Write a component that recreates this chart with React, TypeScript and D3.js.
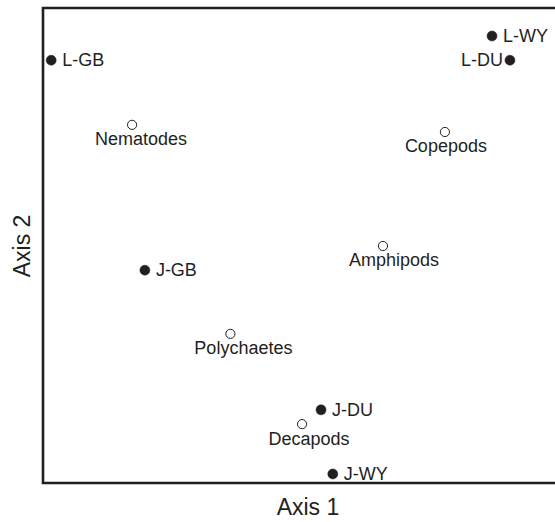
import React from "react";
import * as d3 from "d3";

const W = 555;
const H = 522;

const names = ["L-GB", "L-WY", "L-DU", "Nematodes", "Copepods", "Amphipods", "J-GB", "Polychaetes", "J-DU", "Decapods", "J-WY"];
const kinds = ["site", "site", "site", "taxon", "taxon", "taxon", "site", "taxon", "site", "taxon", "site"];
const axis1 = [1.6, 87.7, 91.2, 17.4, 78.5, 66.4, 19.9, 36.6, 54.3, 50.6, 56.6];
const axis2 = [89.0, 94.1, 89.0, 75.4, 73.9, 49.9, 44.8, 31.4, 15.4, 12.4, 1.9];
// label placement: "r" right, "l" left, "b" below (with horizontal nudge)
const labelSide = ["r", "r", "l", "b", "b", "b", "r", "b", "r", "b", "r"];
const labelNudge = [0, 0, 0, 9, 1, 11, 0, 13, 0, 7, 0];

const xTitle = "Axis 1";
const yTitle = "Axis 2";

export default function App() {
  const left = 43;
  const top = 8;
  const bottom = 483;
  const right = 555;
  const x = d3.scaleLinear().domain([0, 100]).range([left, right]);
  const y = d3.scaleLinear().domain([0, 100]).range([bottom, top]);
  const frame = d3.line()([
    [right + 20, top],
    [left, top],
    [left, bottom],
    [right + 20, bottom],
  ]);
  const font = "'Liberation Sans', Arial, Helvetica, sans-serif";
  const ink = "#231f20";
  return (
    <svg width={W} height={H} style={{ position: "absolute", left: 0, top: 0, background: "#fff" }}>
      <path d={frame || ""} fill="none" stroke={ink} strokeWidth={2.6} />
      {names.map((n, i) => {
        const cx = x(axis1[i]);
        const cy = y(axis2[i]);
        const side = labelSide[i];
        let tx = cx + 11;
        let ty = cy + 6;
        let anchor: "start" | "middle" | "end" = "start";
        if (side === "l") {
          tx = cx - 7;
          anchor = "end";
        } else if (side === "b") {
          tx = cx + labelNudge[i];
          ty = cy + 20.5;
          anchor = "middle";
        }
        return (
          <g key={n}>
            <circle
              cx={cx}
              cy={cy}
              r={kinds[i] === "site" ? 5 : 4.6}
              fill={kinds[i] === "site" ? ink : "#fff"}
              stroke={ink}
              strokeWidth={kinds[i] === "site" ? 0.5 : 1}
            />
            <text x={tx} y={ty} textAnchor={anchor} fontFamily={font} fontSize={18} fill={ink}>
              {n}
            </text>
          </g>
        );
      })}
      <text x={308} y={515} textAnchor="middle" fontFamily={font} fontSize={23} fill={ink}>
        {xTitle}
      </text>
      <text
        transform={`translate(30,246) rotate(-90)`}
        textAnchor="middle"
        fontFamily={font}
        fontSize={23}
        fill={ink}
      >
        {yTitle}
      </text>
    </svg>
  );
}
